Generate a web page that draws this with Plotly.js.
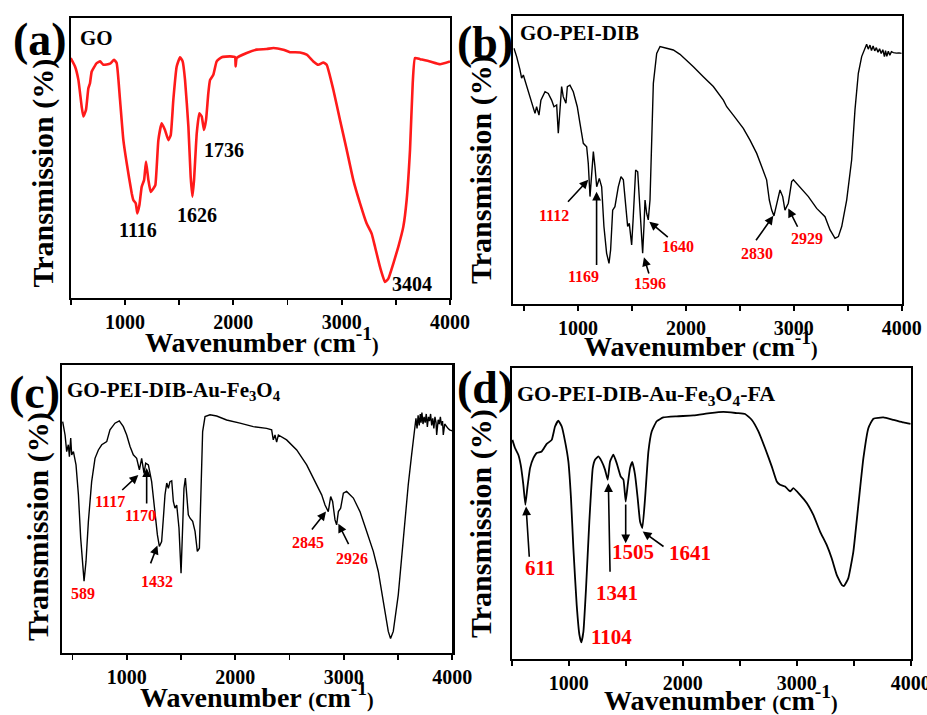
<!DOCTYPE html>
<html>
<head>
<meta charset="utf-8">
<script src="https://cdn.plot.ly/plotly-3.0.1.min.js"></script>
<style>html,body{margin:0;padding:0;background:#fff;}#chart{width:927px;height:715px;}</style>
</head>
<body>
<div id="chart"></div>
<script>
// ---------- DATA ----------
// (a) GO
const aX = [500,540,571,601,617,641,663,678,694,740,771,801,863,900,924,955,986,1017,1063,1078,1100,1115,1134,1155,1177,1195,1217,1238,1263,1281,1309,1340,1370,1401,1423,1447,1478,1509,1533,1555,1586,1607,1623,1638,1663,1687,1709,1730,1749,1770,1786,1816,1847,1893,1970,2016,2022,2032,2124,2216,2308,2370,2462,2524,2616,2678,2739,2785,2831,2862,2924,2985,3047,3108,3170,3231,3277,3308,3354,3400,3431,3477,3523,3569,3600,3631,3656,3677,3724,3816,3908,4000];
const aY = [85.7,82.7,77.9,68.4,64.8,67.2,74.9,76.7,80.9,83.9,84.5,83.3,83.7,85.1,83.9,70.8,56.4,48.1,37.4,35.0,33.8,30.2,33.2,39.7,42.1,48.7,42.1,37.9,39.1,40.3,56.4,62.4,60.0,56.4,58.2,70.8,82.7,86.0,84.5,77.9,61.2,43.3,36.2,42.1,58.8,66.0,64.8,60.0,63.6,73.2,77.9,79.7,84.5,86.0,86.3,86.0,82.7,85.7,87.5,88.7,88.9,89.3,88.7,87.8,87.7,86.9,84.5,83.3,84.1,83.3,74.3,63.6,52.9,42.1,33.8,26.6,23.0,18.3,11.1,5.7,6.9,12.3,18.3,25.4,35.0,52.9,76.7,85.7,85.3,84.5,83.5,84.5];

// (b) GO-PEI-DIB
const bX = [406,431,462,477,493,524,555,585,601,616,638,656,694,724,755,777,802,817,833,848,863,888,901,925,956,981,993,1018,1049,1080,1095,1111,1126,1142,1157,1173,1197,1219,1240,1265,1287,1302,1321,1342,1373,1398,1420,1441,1460,1475,1497,1512,1534,1553,1568,1590,1599,1611,1621,1636,1651,1667,1682,1698,1729,1760,1821,1883,1945,2007,2069,2161,2254,2347,2378,2439,2532,2594,2656,2702,2748,2773,2795,2816,2841,2872,2897,2918,2949,2980,2996,3057,3135,3212,3289,3336,3382,3413,3444,3490,3536,3567,3598,3629,3660,3675,3690,3706,3720,3735,3750,3765,3780,3795,3810,3825,3840,3850,3862,3876,3890,3905,3923,3950,3975,4000];
const bY = [88.8,85.9,81.3,78.4,79.5,75.5,72.0,67.4,66.2,68.5,65.6,70.8,73.7,73.1,70.8,68.5,69.1,59.3,67.4,75.5,72.0,69.7,75.5,76.0,73.7,69.7,68.5,62.7,55.8,54.6,48.8,37.3,45.4,52.9,47.7,40.7,43.6,40.7,26.9,17.6,14.1,18.8,32.6,33.8,40.7,44.2,43.1,33.8,26.9,28.0,20.5,30.3,46.5,45.9,36.1,19.9,17.6,26.9,36.1,31.5,29.2,36.1,59.3,76.6,87.0,89.4,88.8,88.2,86.7,84.7,82.4,78.9,75.5,70.8,68.5,65.6,61.0,56.9,52.3,47.7,43.1,36.1,32.6,30.6,35.0,39.6,37.3,32.6,35.0,42.5,43.1,40.7,37.3,33.2,30.3,25.7,22.8,23.4,26.9,36.1,50.0,67.4,80.1,85.9,88.8,90.2,88.5,89.9,88.0,89.6,87.9,89.0,87.4,88.6,87.0,88.3,85.9,88.0,86.0,87.8,86.4,87.6,87.3,87.1,87.2,87.0];

// (c) GO-PEI-DIB-Au-Fe3O4
const cX = [409,431,446,461,471,483,492,508,532,554,575,594,606,624,646,676,707,738,769,815,845,891,931,968,999,1030,1060,1091,1116,1137,1159,1174,1199,1229,1260,1282,1300,1321,1337,1352,1368,1383,1398,1414,1429,1444,1460,1481,1500,1512,1527,1540,1552,1567,1583,1607,1629,1650,1669,1684,1699,1721,1767,1828,1920,2043,2166,2289,2335,2350,2366,2381,2397,2473,2566,2658,2735,2796,2827,2857,2879,2897,2919,2934,2950,2971,2996,3026,3088,3149,3211,3272,3318,3364,3410,3431,3456,3502,3548,3594,3625,3646,3665,3675,3685,3695,3705,3712,3720,3730,3740,3750,3760,3770,3780,3790,3800,3810,3820,3830,3840,3850,3856,3870,3880,3890,3900,3910,3917,3930,3945,3960,3975,3990,4000];
const cY = [80.3,75.7,69.9,72.3,68.2,74.6,68.8,69.9,65.3,54.9,39.9,28.3,24.9,31.8,45.7,59.5,67.6,70.5,72.3,73.4,77.5,79.8,80.6,78.6,75.7,71.7,68.8,67.6,63.6,67.6,62.4,65.9,65.3,59.5,48.0,41.0,37.0,38.7,46.8,54.9,59.0,57.2,59.5,59.8,52.6,50.3,51.4,43.4,27.7,38.7,57.2,60.7,54.9,48.0,46.8,45.7,42.2,35.3,36.4,54.9,76.9,82.1,82.7,82.3,80.9,79.8,78.6,78.0,77.5,74.0,75.7,73.2,75.7,74.0,70.5,65.3,59.5,54.9,51.4,49.1,54.3,52.6,46.2,44.5,49.1,50.3,55.5,56.1,53.8,49.1,42.2,35.3,28.3,17.9,7.5,5.0,7.5,20.2,39.9,58.4,68.8,75.7,81.5,78.0,82.5,79.0,83.0,80.0,83.5,79.5,82.0,80.0,83.0,78.5,82.0,80.5,83.0,79.0,81.5,78.0,82.0,80.0,75.7,81.0,79.5,82.0,79.0,80.5,75.7,79.5,78.5,78.0,77.5,77.2,77.1];

// (d) GO-PEI-DIB-Au-Fe3O4-FA
const dX = [506,529,558,579,602,620,637,661,690,719,763,807,851,880,909,939,968,997,1020,1041,1070,1094,1111,1129,1152,1181,1211,1231,1260,1289,1319,1342,1363,1392,1421,1456,1480,1500,1518,1538,1558,1582,1605,1626,1646,1670,1699,1728,1772,1830,1947,2094,2240,2357,2474,2547,2605,2664,2722,2781,2825,2854,2898,2942,2971,3029,3088,3146,3205,3263,3307,3351,3395,3415,3453,3497,3541,3585,3629,3673,3760,3848,3936,4000];
const dY = [75.3,72.5,70.2,66.7,59.9,53.0,58.7,65.6,69.0,70.8,71.3,73.9,75.3,79.9,81.9,79.9,74.8,67.9,55.3,38.1,18.6,8.3,5.7,9.4,24.3,47.2,65.6,68.5,69.6,67.9,65.0,61.6,67.9,70.2,67.3,62.7,61.6,54.1,59.9,65.6,67.7,63.3,55.3,47.2,45.0,55.3,71.3,78.2,81.7,83.0,83.4,83.7,84.5,84.9,84.5,84.2,82.2,78.2,72.5,66.2,61.0,59.9,59.3,57.6,58.7,56.4,53.6,49.5,43.8,39.2,34.6,28.9,25.5,25.1,27.8,36.9,53.0,69.0,79.4,82.6,83.0,82.2,81.3,80.8];

// tick labels
const tickVals = [1000,2000,3000,4000];
const tickText = ["1000","2000","3000","4000"];

// peak labels: text, label x, label y
const aPeakText = ["1116","1626","1736","3404"];
const aPeakX = [1124,1669,1915,3652];
const aPeakY = [24.2,29.6,52.9,5.1];

const bPeakText = ["1112","1169","1596","1640","2830","2929"];
const bPeakX = [777,1049,1667,1930,2656,3119];
const bPeakY = [30.6,9.7,7.2,19.9,17.6,22.8];
const bTipX = [1095,1172,1611,1661,2810,2949];
const bTipY = [43.1,39.0,16.2,28.6,30.6,33.2];
const bTailX = [894,1172,1661,1846,2640,3042];
const bTailY = [35.0,13.0,10.1,22.8,21.6,26.3];

const cPeakText = ["589","1117","1170","1432","2845","2926"];
const cPeakX = [600,845,1122,1282,2673,3072];
const cPeakY = [20.8,52.6,47.6,24.9,38.2,32.9];
const cTipX = [null,1106,1183,1282,2836,2950];
const cTipY = [null,61.8,64.2,37.3,49.1,44.9];
const cTailX = [null,944,1183,1214,2695,3051];
const cTailY = [null,56.1,51.4,30.6,42.4,37.3];

const dPeakText = ["611","1104","1341","1505","1641"];
const dPeakX = [749,1377,1421,1567,2064];
const dPeakY = [31.2,7.7,22.6,36.9,36.4];
const dTipX = [626,null,1348,1500,1649];
const dTipY = [52.4,null,60.4,39.8,43.8];
const dTailX = [655,null,1363,1500,1845];
const dTailY = [34.6,null,29.5,53.6,38.3];

// ---------- LAYOUT ----------
const W = 927, H = 715;
const SERIF = "Liberation Serif, Times New Roman, serif";
function px(x){return x/W;}
function py(y){return 1-y/H;}

const traces = [
  {x:aX, y:aY, xaxis:'x', yaxis:'y', mode:'lines', line:{color:'#ff1a1a', width:2.6, shape:'spline', smoothing:0.4}, hoverinfo:'skip'},
  {x:bX, y:bY, xaxis:'x2', yaxis:'y2', mode:'lines', line:{color:'#000', width:1.4}, hoverinfo:'skip'},
  {x:cX, y:cY, xaxis:'x3', yaxis:'y3', mode:'lines', line:{color:'#000', width:1.4}, hoverinfo:'skip'},
  {x:dX, y:dY, xaxis:'x4', yaxis:'y4', mode:'lines', line:{color:'#000', width:1.8, shape:'spline', smoothing:0.4}, hoverinfo:'skip'}
];

function xa(dom, range, anchor){
  return {domain:dom, range:range, anchor:anchor, tickvals:tickVals, ticktext:tickText,
    ticks:'outside', ticklen:5, tickwidth:1.8, tickcolor:'#000', ticklabeloverflow:'allow',
    minor:{dtick:500, tick0:0, ticks:'outside', ticklen:5, tickwidth:1.8, tickcolor:'#000'},
    showline:true, mirror:true, linewidth:2.2, linecolor:'#000', showgrid:false, zeroline:false,
    tickfont:{family:SERIF, size:20, color:'#000', weight:'bold'}, fixedrange:true};
}
function ya(dom, anchor){
  return {domain:dom, range:[0,100], anchor:anchor, showticklabels:false, ticks:'',
    showline:true, mirror:true, linewidth:2.2, linecolor:'#000', showgrid:false, zeroline:false, fixedrange:true};
}

const annotations = [];
function addText(text, x, y, xref, yref, size, color, opts){
  annotations.push(Object.assign({text:text, x:x, y:y, xref:xref, yref:yref, showarrow:false,
    font:{family:SERIF, size:size, color:color, weight:'bold'}, xanchor:'center', yanchor:'middle'}, opts||{}));
}
function addArrow(xr, yr, tx, ty, sx, sy){
  annotations.push({text:'', x:tx, y:ty, ax:sx, ay:sy, xref:xr, yref:yr, axref:xr, ayref:yr,
    showarrow:true, arrowhead:2, arrowsize:1.1, arrowwidth:1.6, arrowcolor:'#000'});
}

// panel letters
addText('(a)', px(40), py(40), 'paper','paper', 46, '#000');
addText('(b)', px(485), py(42), 'paper','paper', 46, '#000');
addText('(c)', px(34), py(392), 'paper','paper', 46, '#000');
addText('(d)', px(485), py(387), 'paper','paper', 46, '#000');
// sample names
addText('GO', px(78), py(38), 'paper','paper', 21, '#000', {xanchor:'left'});
addText('GO-PEI-DIB', px(518), py(33), 'paper','paper', 21, '#000', {xanchor:'left'});
addText('GO-PEI-DIB-Au-Fe<sub>3</sub>O<sub>4</sub>', px(65), py(391), 'paper','paper', 21, '#000', {xanchor:'left'});
addText('GO-PEI-DIB-Au-Fe<sub>3</sub>O<sub>4</sub>-FA', px(515), py(395), 'paper','paper', 22, '#000', {xanchor:'left'});
// axis titles
const yTitle = 'Transmission (%)';
const xTitle = "Wavenumber <span style='font-size:20px'>(</span>cm<sup>-1</sup><span style='font-size:20px'>)</span>";
[[42.5,173],[481,170],[38,527],[481,524]].forEach(p=>addText(yTitle, px(p[0]), py(p[1]), 'paper','paper', 30, '#000', {textangle:-90}));
[[262,340],[701,344],[257,695],[721,698]].forEach(p=>addText(xTitle, px(p[0]), py(p[1]), 'paper','paper', 28, '#000'));

// peak labels
aPeakText.forEach((t,i)=>addText(t, aPeakX[i], aPeakY[i], 'x','y', 20, '#000'));
bPeakText.forEach((t,i)=>{addText(t, bPeakX[i], bPeakY[i], 'x2','y2', 16, '#ff0000');
  if(bTipX[i]!==null) addArrow('x2','y2', bTipX[i], bTipY[i], bTailX[i], bTailY[i]);});
cPeakText.forEach((t,i)=>{addText(t, cPeakX[i], cPeakY[i], 'x3','y3', 16, '#ff0000');
  if(cTipX[i]!==null) addArrow('x3','y3', cTipX[i], cTipY[i], cTailX[i], cTailY[i]);});
dPeakText.forEach((t,i)=>{addText(t, dPeakX[i], dPeakY[i], 'x4','y4', 21, '#ff0000');
  if(dTipX[i]!==null) addArrow('x4','y4', dTipX[i], dTipY[i], dTailX[i], dTailY[i]);});

const layout = {
  width:W, height:H, margin:{l:0,r:0,t:0,b:0}, showlegend:false,
  paper_bgcolor:'#fff', plot_bgcolor:'#fff',
  xaxis: xa([px(70.7), px(450)], [500,4000], 'y'),
  yaxis: ya([py(298), py(18)], 'x'),
  xaxis2: xa([px(513.3), px(901.7)], [400,4000], 'y2'),
  yaxis2: ya([py(304), py(16)], 'x2'),
  xaxis3: xa([px(61.7), px(452.3)], [400,4000], 'y3'),
  yaxis3: ya([py(653), py(365)], 'x3'),
  xaxis4: xa([px(511.7), px(910.7)], [500,4000], 'y4'),
  yaxis4: ya([py(659), py(368)], 'x4'),
  annotations: annotations
};

Plotly.newPlot('chart', traces, layout, {staticPlot:true, displayModeBar:false});
</script>
</body>
</html>
